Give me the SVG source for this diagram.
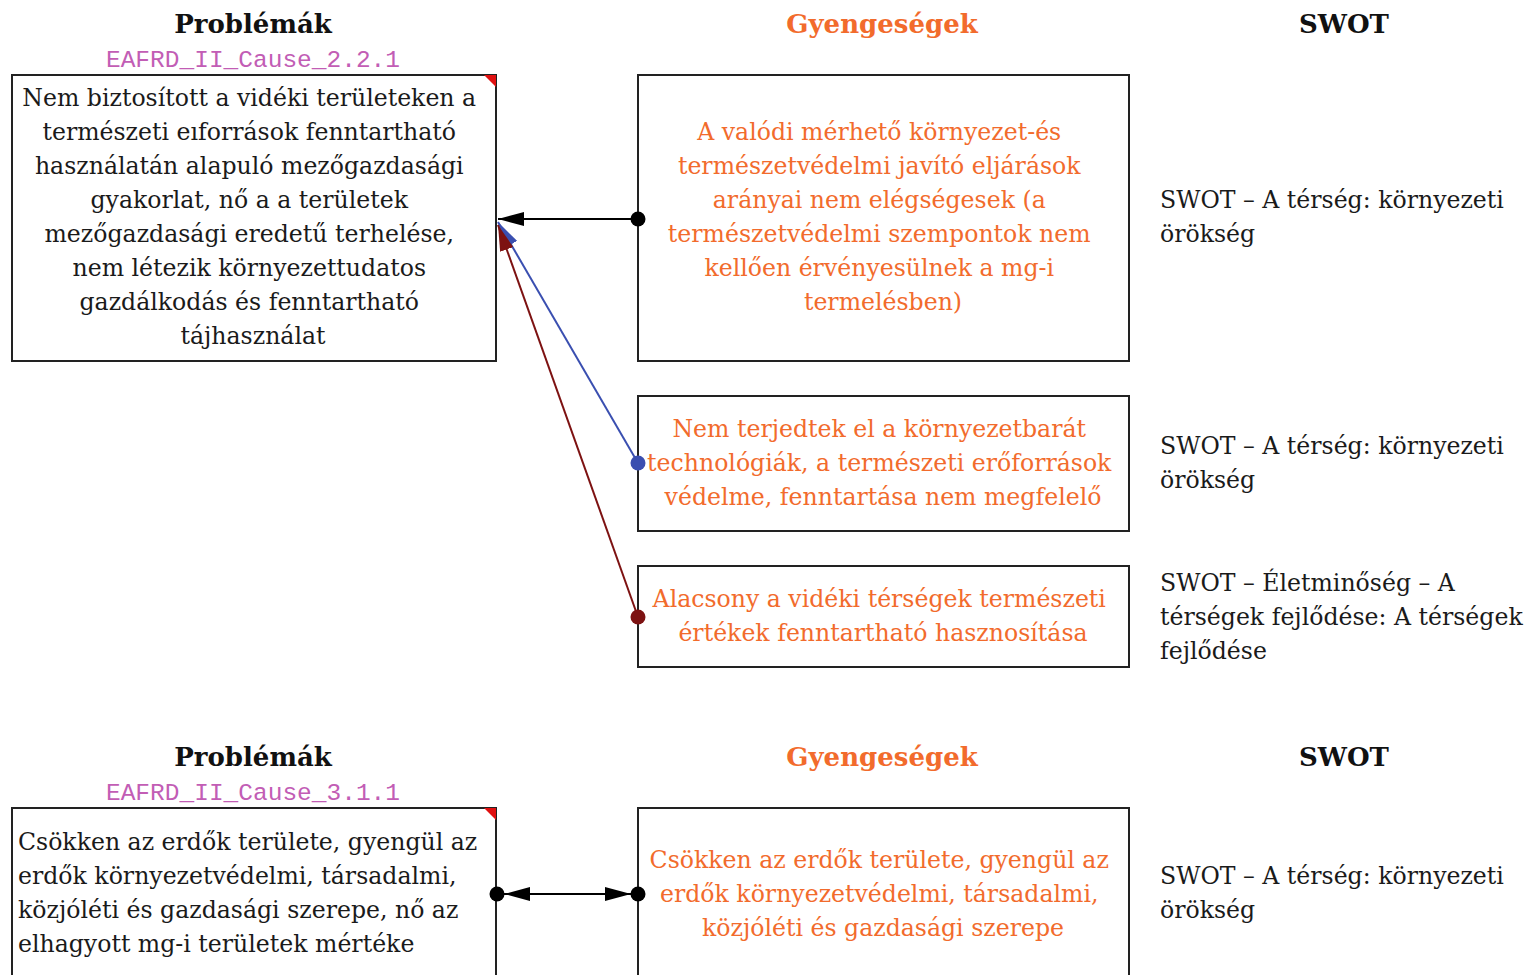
<svg xmlns="http://www.w3.org/2000/svg" width="1531" height="975" viewBox="0 0 1531 975">
<defs>
<style>
.hdr{font-family:"DejaVu Serif","Liberation Serif",serif;font-weight:bold;font-size:26px;text-anchor:middle}
.id{font-family:"Liberation Mono","DejaVu Sans Mono",monospace;font-size:24.5px;fill:#c25db5;text-anchor:middle}
.t{font-family:"DejaVu Serif","Liberation Serif",serif;font-size:23.6px;fill:#1a1a1a}
.o{font-family:"DejaVu Serif","Liberation Serif",serif;font-size:23.6px;fill:#f26b2c;text-anchor:middle}
.c{text-anchor:middle}
.box{fill:#fff;stroke:#222;stroke-width:2}
.flag{fill:#e01010}
</style>
<marker id="arB" viewBox="0 0 26 14" refX="26" refY="7" markerWidth="26" markerHeight="14" markerUnits="userSpaceOnUse" orient="auto-start-reverse"><path d="M26,7 L0,0 L0,14 Z" fill="#000"/></marker>
<marker id="arBlue" viewBox="0 0 26 14" refX="26" refY="7" markerWidth="26" markerHeight="14" markerUnits="userSpaceOnUse" orient="auto"><path d="M26,7 L0,0 L0,14 Z" fill="#3a4fb0"/></marker>
<marker id="arRed" viewBox="0 0 26 14" refX="26" refY="7" markerWidth="26" markerHeight="14" markerUnits="userSpaceOnUse" orient="auto"><path d="M26,7 L0,0 L0,14 Z" fill="#7d1212"/></marker>
</defs>
<rect width="1531" height="975" fill="#fff"/>

<g id="headers1">
<text class="hdr" x="253" y="33" fill="#111">Problémák</text>
<text class="id" x="253" y="67">EAFRD_II_Cause_2.2.1</text>
<text class="hdr" x="882" y="33" fill="#f26b2c">Gyengeségek</text>
<text class="hdr" x="1344" y="33" fill="#111">SWOT</text>
</g>

<g id="problem1">
<rect class="box" x="12" y="75" width="484" height="286"/>
<path class="flag" d="M484,75 L496,75 L496,87 Z"/>
<text class="t c" x="253">
<tspan x="253" y="106">Nem biztosított a vidéki területeken a</tspan>
<tspan x="253" y="140">természeti eıforrások fenntartható</tspan>
<tspan x="253" y="174">használatán alapuló mezőgazdasági</tspan>
<tspan x="253" y="208">gyakorlat, nő a a területek</tspan>
<tspan x="253" y="242">mezőgazdasági eredetű terhelése,</tspan>
<tspan x="253" y="276">nem létezik környezettudatos</tspan>
<tspan x="253" y="310">gazdálkodás és fenntartható</tspan>
<tspan x="253" y="344">tájhasználat</tspan>
</text>
</g>

<g id="weak1">
<rect class="box" x="638" y="75" width="491" height="286"/>
<text class="o">
<tspan x="883" y="140">A valódi mérhető környezet-és</tspan>
<tspan x="883" y="174">természetvédelmi javító eljárások</tspan>
<tspan x="883" y="208">arányai nem elégségesek (a</tspan>
<tspan x="883" y="242">természetvédelmi szempontok nem</tspan>
<tspan x="883" y="276">kellően érvényesülnek a mg-i</tspan>
<tspan x="883" y="310">termelésben)</tspan>
</text>
</g>

<g id="weak2">
<rect class="box" x="638" y="396" width="491" height="135"/>
<text class="o">
<tspan x="883" y="437">Nem terjedtek el a környezetbarát</tspan>
<tspan x="883" y="471">technológiák, a természeti erőforrások</tspan>
<tspan x="883" y="505">védelme, fenntartása nem megfelelő</tspan>
</text>
</g>

<g id="weak3">
<rect class="box" x="638" y="566" width="491" height="101"/>
<text class="o">
<tspan x="883" y="607">Alacsony a vidéki térségek természeti</tspan>
<tspan x="883" y="641">értékek fenntartható hasznosítása</tspan>
</text>
</g>

<g id="swot1">
<text class="t"><tspan x="1160" y="208">SWOT – A térség: környezeti</tspan><tspan x="1160" y="242">örökség</tspan></text>
</g>
<g id="swot2">
<text class="t"><tspan x="1160" y="454">SWOT – A térség: környezeti</tspan><tspan x="1160" y="488">örökség</tspan></text>
</g>
<g id="swot3">
<text class="t"><tspan x="1160" y="591">SWOT – Életminőség – A</tspan><tspan x="1160" y="625">térségek fejlődése: A térségek</tspan><tspan x="1160" y="659">fejlődése</tspan></text>
</g>

<g id="headers2">
<text class="hdr" x="253" y="766" fill="#111">Problémák</text>
<text class="id" x="253" y="800">EAFRD_II_Cause_3.1.1</text>
<text class="hdr" x="882" y="766" fill="#f26b2c">Gyengeségek</text>
<text class="hdr" x="1344" y="766" fill="#111">SWOT</text>
</g>

<g id="problem2">
<rect class="box" x="12" y="808" width="484" height="180"/>
<path class="flag" d="M484,808 L496,808 L496,820 Z"/>
<text class="t">
<tspan x="18" y="850">Csökken az erdők területe, gyengül az</tspan>
<tspan x="18" y="884">erdők környezetvédelmi, társadalmi,</tspan>
<tspan x="18" y="918">közjóléti és gazdasági szerepe, nő az</tspan>
<tspan x="18" y="952">elhagyott mg-i területek mértéke</tspan>
</text>
</g>

<g id="weak4">
<rect class="box" x="638" y="808" width="491" height="180"/>
<text class="o">
<tspan x="883" y="868">Csökken az erdők területe, gyengül az</tspan>
<tspan x="883" y="902">erdők környezetvédelmi, társadalmi,</tspan>
<tspan x="883" y="936">közjóléti és gazdasági szerepe</tspan>
</text>
</g>

<g id="swot4">
<text class="t"><tspan x="1160" y="884">SWOT – A térség: környezeti</tspan><tspan x="1160" y="918">örökség</tspan></text>
</g>

<g id="connectors" fill="none" stroke-width="2">
<line x1="638" y1="219" x2="498" y2="219" stroke="#000" marker-end="url(#arB)"/>
<circle cx="638" cy="219" r="7.5" fill="#000" stroke="none"/>
<line x1="638" y1="463" x2="498" y2="222" stroke="#3a4fb0" marker-end="url(#arBlue)"/>
<circle cx="638" cy="463" r="7.5" fill="#3a4fb0" stroke="none"/>
<line x1="638" y1="617" x2="498" y2="225" stroke="#7d1212" marker-end="url(#arRed)"/>
<circle cx="638" cy="617" r="7.5" fill="#7d1212" stroke="none"/>
<line x1="504" y1="894" x2="631" y2="894" stroke="#000" marker-start="url(#arB)" marker-end="url(#arB)"/>
<circle cx="497" cy="894" r="7.5" fill="#000" stroke="none"/>
<circle cx="638" cy="894" r="7.5" fill="#000" stroke="none"/>
</g>
</svg>
